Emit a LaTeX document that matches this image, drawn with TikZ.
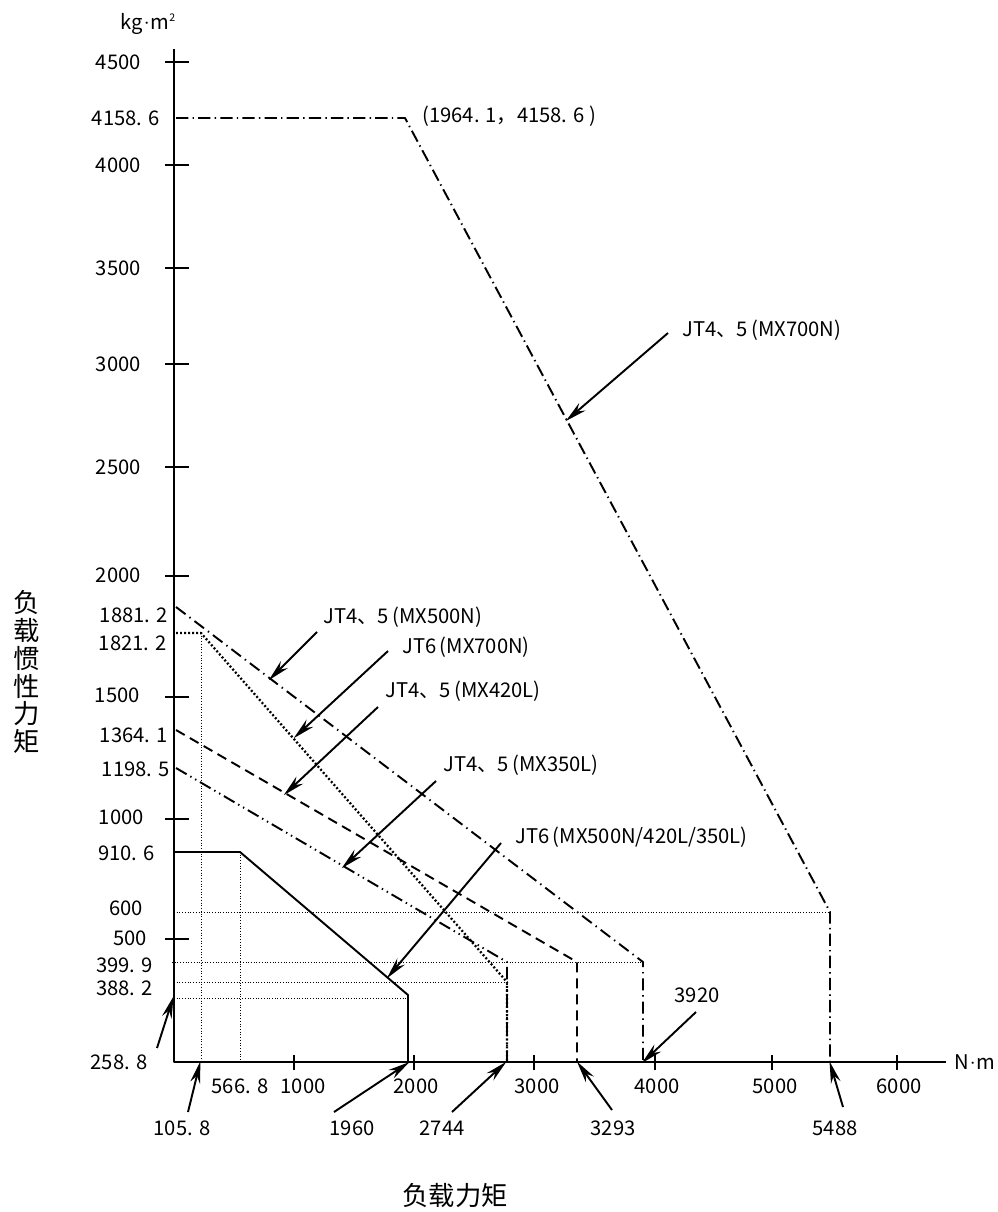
\documentclass[tikz,border=0pt]{standalone}
\usepackage{fontspec}
\setmainfont{Noto Sans CJK SC}
\usetikzlibrary{arrows.meta}
\newcommand\mdot{\kern.5pt\raisebox{.1ex}{${\cdot}$}\kern.5pt}
\begin{document}
\begin{tikzpicture}[x=0.02cm,y=-0.02cm,line join=round,>={Stealth[length=12.5pt,width=5.6pt]},
  font=\fontsize{11.5}{13}\selectfont,
  guide/.style={line width=.45pt,dash pattern=on .45pt off 1.1pt},
  leader/.style={->,line width=1.1pt,shorten >=-1pt},
  tag/.style={inner sep=0pt,anchor=west},
  curve/.style={line width=1.1pt},
  title/.style={font=\fontsize{15}{15.9}\selectfont,align=center,inner sep=0pt}]
\useasboundingbox (0,0) rectangle (997,1212);
\coordinate (O) at (174,1062);
\coordinate (ytop) at (174,49);
\coordinate (xend) at (946,1062);
\draw[line width=1.6pt] (ytop) -- (O) -- (xend);
\node[tag] (Nm) at (954,1062) {N\mdot m};
\node[inner sep=0pt] (kgm) at (148,24) {kg\mdot m\raisebox{.7ex}{\fontsize{6}{6}\selectfont 2}};
\node[title] (ytitle) at (27,672) {负\\载\\惯\\性\\力\\矩};
\node[title] (xtitle) at (455,1196) {负载力矩};
\foreach \y in {62,165,268,364,467,576,697,819,939}
  \draw[line width=1.1pt] (165,\y) -- (189,\y);
\foreach \x in {294,414,534,655,772,897}
  \draw[line width=1.1pt] (\x,1055) -- (\x,1070);
\foreach \y/\r/\lb in {62/141/4500, 118/160/4158. 6, 165/141/4000, 268/141/3500, 364/141/3000,
  467/141/2500, 575/141/2000, 615/168/1881. 2, 643/167/1821. 2, 695/140/1500, 735/168/1364. 1,
  769/170/1198. 5, 817/144/1000, 853/155/910. 6, 908/143/600, 938/147/500, 965/153/399. 9,
  988/153/388. 2}
  \node[inner sep=0pt,anchor=east] (ylab\y) at (\r,\y) {\lb};
\foreach \x/\lb in {240/566. 8, 303/1000, 416/2000, 537/3000, 657/4000, 775/5000, 899/6000}
  \node[inner sep=0pt] (xlab\x) at (\x,1086) {\lb};
% guide lines
\draw[guide] (201,633) -- (201,1062);
\draw[guide] (240,852) -- (240,1062);
\draw[guide] (174,912) -- (830,912);
\draw[guide] (172,962) -- (643,962);
\draw[guide] (174,982) -- (507,982);
\draw[guide] (174,998) -- (408,998);
% limit curves
\draw[curve,dash pattern=on 7pt off 2.4pt on .8pt off 2.4pt] (176,118) -- (405,118) -- (830,912) -- (830,1062);
\draw[curve,dash pattern=on 6.8pt off 2.8pt on .8pt off 2.8pt] (176,607) -- (643,962) -- (643,1062);
\draw[curve,dash pattern=on 5.7pt off 3.4pt] (176,730) -- (577,962) -- (577,1062);
\draw[curve,dash pattern=on 7pt off 2.4pt on .8pt off 2.4pt on .8pt off 2.4pt] (176,768) -- (507,962) -- (507,1062);
\draw[line width=1.3pt,dash pattern=on 1.1pt off 1.2pt] (176,633) -- (201,633) -- (507,982) -- (507,1062);
\draw[curve] (174,852) -- (240,852) -- (408,995) -- (408,1062);
\node[tag] (corner) at (422,116) {(1964. 1，4158. 6 )};
% leaders
\node[tag] (l700) at (682,330) {JT4、5\,(MX700N)};
\node[tag] (l500) at (323,617) {JT4、5\,(MX500N)};
\node[tag] (l6700) at (402,647) {JT6\,(MX700N)};
\node[tag] (l420) at (385,691) {JT4、5\,(MX420L)};
\node[tag] (l350) at (443,765) {JT4、5\,(MX350L)};
\node[tag] (l6all) at (515,837) {JT6\,(MX500N/420L/350L)};
\node[inner sep=0pt] (v3920) at (697,995) {3920};
\node[inner sep=0pt] (v2588) at (119,1062) {258. 8};
\node[inner sep=0pt] (v1058) at (182,1128) {105. 8};
\node[inner sep=0pt] (v1960) at (352,1128) {1960};
\node[inner sep=0pt] (v2744) at (442,1128) {2744};
\node[inner sep=0pt] (v3293) at (613,1128) {3293};
\node[inner sep=0pt] (v5488) at (835,1128) {5488};
\foreach \n/\xa/\ya/\xb/\yb in {a/668/333/567/420, b/317/632/270/679, c/388/651/295/737,
  d/378/707/285/794, e/436/781/343/867, f/501/843/388/977,
  g/696/1012/643/1062, h/157/1048/173/998, i/188/1112/200/1063,
  j/334/1112/408/1063, k/452/1112/505/1063, l/612/1110/578/1063,
  m/843/1107/830/1063}{
  \coordinate (s\n) at (\xa,\ya);
  \coordinate (e\n) at (\xb,\yb);
  \draw[leader] (s\n) -- (e\n);
}
\end{tikzpicture}
\end{document}
